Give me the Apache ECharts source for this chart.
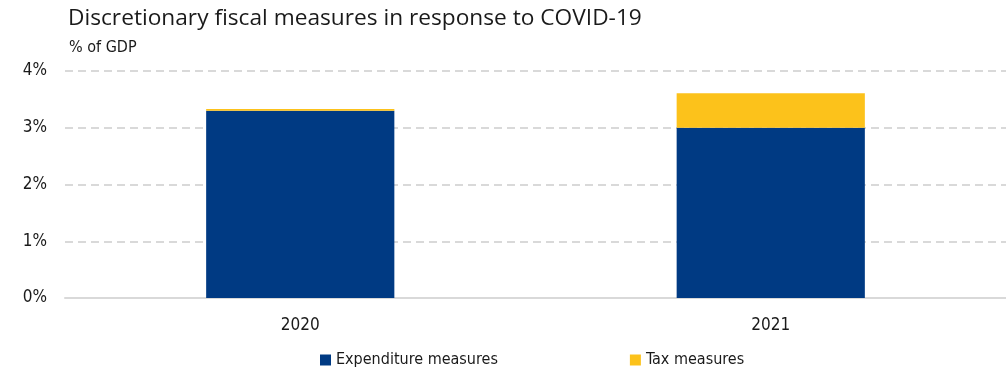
<!DOCTYPE html>
<html lang="en">
<head>
<meta charset="utf-8">
<script src="https://cdn.jsdelivr.net/npm/echarts@6/dist/echarts.min.js"></script>
<style>
    html, body { margin: 0; padding: 0; background: #fff; }
    #chart { width: 1006px; height: 371px; }
</style>
</head>
<body>
<div id="chart"></div>
<script>
    // data
    var years = ['2020', '2021'];
    var expenditure = [3.3, 3.0];
    var tax = [0.03, 0.61];
    var yTicks = [0, 1, 2, 3, 4];

    var narrow = '"Liberation Sans Narrow", "DejaVu Sans Condensed", sans-serif';

    var chart = echarts.init(document.getElementById('chart'));
    chart.setOption({
        animation: false,
        title: [
            {
                text: 'Discretionary fiscal measures in response to COVID-19',
                left: 63, top: 2,
                textStyle: { fontFamily: '"Open Sans", sans-serif', fontSize: 22.7, fontWeight: 'normal', color: '#1a1a1a' }
            },
            {
                text: '% of GDP',
                left: 64, top: 35,
                textStyle: { fontFamily: narrow, fontSize: 16, fontWeight: 'normal', color: '#1a1a1a' }
            }
        ],
        legend: {
            bottom: -2,
            left: 315,
            itemGap: 132,
            itemWidth: 11,
            itemHeight: 11,
            icon: 'rect',
            textStyle: { fontFamily: narrow, fontSize: 16, color: '#1a1a1a' },
            data: ['Expenditure measures', 'Tax measures']
        },
        grid: { left: 65, right: -6, top: 71, bottom: 73 },
        xAxis: {
            type: 'category',
            data: years,
            axisLine: { lineStyle: { color: '#d9d9d9', width: 2 } },
            axisTick: { show: false },
            axisLabel: { fontFamily: narrow, fontSize: 17, color: '#1a1a1a', margin: 19 }
        },
        yAxis: {
            type: 'value',
            min: yTicks[0],
            max: yTicks[yTicks.length - 1],
            interval: 1,
            axisLabel: {
                fontFamily: narrow, fontSize: 17, color: '#1a1a1a', margin: 18,
                formatter: function (v) { return v + '%'; }
            },
            splitLine: { lineStyle: { color: '#d9d9d9', width: 2, type: [8, 5] } }
        },
        series: [
            {
                name: 'Expenditure measures',
                type: 'bar',
                stack: 'total',
                barWidth: '40%',
                itemStyle: { color: '#003a83' },
                data: expenditure
            },
            {
                name: 'Tax measures',
                type: 'bar',
                stack: 'total',
                itemStyle: { color: '#fcc21b' },
                data: tax
            }
        ]
    });
</script>
</body>
</html>
